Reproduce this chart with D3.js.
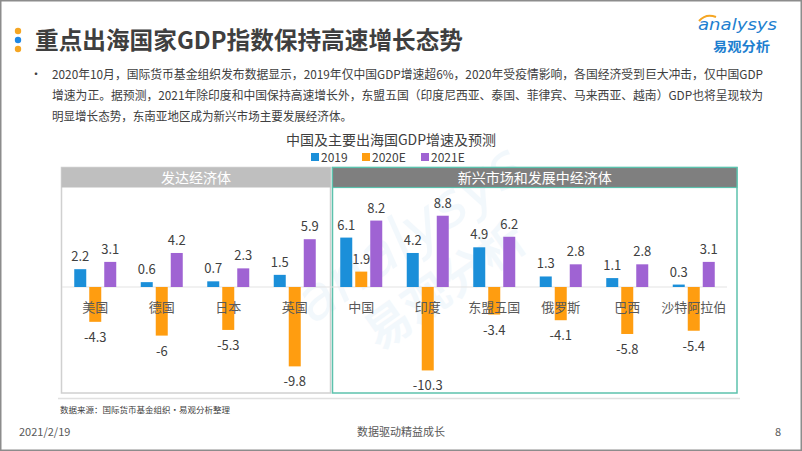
<!DOCTYPE html>
<html><head><meta charset="utf-8">
<script src="https://cdn.jsdelivr.net/npm/d3@7"></script>
<style>
html,body{margin:0;padding:0;background:#fff;}
svg{display:block;font-family:"Noto Sans CJK SC","Noto Sans",sans-serif;}
</style></head>
<body><svg id="c" width="802" height="451"></svg>
<script>
const categories = ["美国","德国","日本","英国","中国","印度","东盟五国","俄罗斯","巴西","沙特阿拉伯"];
const series = ["2019","2020E","2021E"];
const v2019  = [2.2, 0.6, 0.7, 1.5, 6.1, 4.2, 4.9, 1.3, 1.1, 0.3];
const v2020E = [-4.3, -6, -5.3, -9.8, 1.9, -10.3, -3.4, -4.1, -5.8, -5.4];
const v2021E = [3.1, 4.2, 2.3, 5.9, 8.2, 8.8, 6.2, 2.8, 2.8, 3.1];
const groups = [{name:"发达经济体", from:"美国", to:"英国"}, {name:"新兴市场和发展中经济体", from:"中国", to:"沙特阿拉伯"}];
const colors = ["#1b8fd9","#ff9d10","#9f63d3"];
const paragraph = [
 "2020年10月，国际货币基金组织发布数据显示，2019年仅中国GDP增速超6%，2020年受疫情影响，各国经济受到巨大冲击，仅中国GDP",
 "增速为正。据预测，2021年除印度和中国保持高速增长外，东盟五国（印度尼西亚、泰国、菲律宾、马来西亚、越南）GDP也将呈现较为",
 "明显增长态势，东南亚地区成为新兴市场主要发展经济体。"
];
const values = [v2019, v2020E, v2021E];

const svg = d3.select("#c");
// slide frame
svg.append("rect").attr("x",0.75).attr("y",0.75).attr("width",800.5).attr("height",449.5)
  .attr("fill","#fff").attr("stroke","#8c8c8c").attr("stroke-width",1.5);

// title dots
[["#f5a623",31],["#1e88e5",40],["#f5a623",49]].forEach(d=>{
  svg.append("circle").attr("cx",18).attr("cy",d[1]).attr("r",3.2).attr("fill",d[0]);
});
svg.append("text").attr("x",35).attr("y",49).attr("font-size",24).attr("font-weight",700)
  .attr("fill","#3f3f3f").attr("textLength",428).attr("lengthAdjust","spacingAndGlyphs")
  .text("重点出海国家GDP指数保持高速增长态势");

// logo
svg.append("text").attr("x",698).attr("y",30).attr("font-size",15).attr("font-style","italic")
  .attr("fill","#1e7fd0").attr("font-family","DejaVu Sans, sans-serif").attr("textLength",79)
  .attr("lengthAdjust","spacingAndGlyphs").text("analysys");
svg.append("path").attr("d","M699,21 Q706,13 716,17").attr("fill","none").attr("stroke","#f5a623").attr("stroke-width",2);
svg.append("text").attr("x",713).attr("y",51).attr("font-size",13).attr("font-weight",700)
  .attr("fill","#1e7fd0").attr("textLength",57).attr("lengthAdjust","spacingAndGlyphs").text("易观分析");

// paragraph
svg.append("text").attr("x",30).attr("y",79).attr("font-size",12).attr("fill","#404040").text("•");
const pw = [711, 711, 300];
paragraph.forEach((t,i)=>{
  svg.append("text").attr("x",52).attr("y",79+21*i).attr("font-size",12).attr("fill","#404040")
    .attr("textLength",pw[i]).attr("lengthAdjust","spacingAndGlyphs").text(t);
});

// chart title & legend
svg.append("text").attr("x",391).attr("y",145).attr("text-anchor","middle").attr("font-size",14)
  .attr("fill","#404040").text("中国及主要出海国GDP增速及预测");
const legX = [311, 362, 421];
series.forEach((s,i)=>{
  svg.append("rect").attr("x",legX[i]).attr("y",153).attr("width",8).attr("height",8).attr("fill",colors[i]);
  svg.append("text").attr("x",legX[i]+10).attr("y",161.5).attr("font-size",12).attr("fill","#404040").text(s);
});

// watermark
const wm = svg.append("g").attr("transform","translate(420,250) rotate(-35)").attr("opacity",0.05);
wm.append("text").attr("text-anchor","middle").attr("font-size",60).attr("font-style","italic")
  .attr("fill","#1e7fd0").attr("font-family","DejaVu Sans, sans-serif").text("analysys");
wm.append("text").attr("y",60).attr("text-anchor","middle").attr("font-size",46).attr("font-weight",700)
  .attr("fill","#1e7fd0").text("易观分析");

// scales
const x0 = d3.scaleBand().domain(categories).range([62,727]).padding(0);
const x1 = d3.scaleBand().domain(series).range([-21,21]).paddingInner(0.2);
const y = d3.scaleLinear().domain([-12,10]).range([287+12*8.1, 287-10*8.1]);

// panels
const panelBox = [
  {x:61.5, w:269, stroke:"#d0d0d0", head:"#bfbfbf"},
  {x:332.5, w:404.5, stroke:"#5cc2ad", head:"#7f7f7f"}
];
svg.append("line").attr("x1",58).attr("x2",740).attr("y1",398.5).attr("y2",398.5).attr("stroke","#e0e0e0").attr("stroke-width",1.5);
groups.forEach((g,i)=>{
  const p = panelBox[i];
  svg.append("rect").attr("x",p.x).attr("y",167.5).attr("width",p.w).attr("height",225.5)
    .attr("fill","none").attr("stroke",p.stroke).attr("stroke-width",1.5);
  svg.append("rect").attr("x",p.x).attr("y",167.5).attr("width",p.w).attr("height",20)
    .attr("fill",p.head).attr("stroke",i===1?p.stroke:"none").attr("stroke-width",1.2);
  svg.append("text").attr("x",p.x+p.w/2).attr("y",182.5).attr("text-anchor","middle")
    .attr("font-size",14).attr("fill","#fff").text(g.name);
});

// zero line
svg.append("line").attr("x1",x0.range()[0]).attr("x2",x0.range()[1]).attr("y1",y(0)).attr("y2",y(0))
  .attr("stroke","#e3e3e3").attr("stroke-width",1);

// bars
const data = [];
categories.forEach((c,ci)=>series.forEach((s,si)=>data.push({c, s, si, v:values[si][ci]})));
const bx = d=>x0(d.c)+x0.bandwidth()/2 + x1(d.s);
svg.append("g").selectAll("rect").data(data).join("rect")
  .attr("x",bx).attr("width",x1.bandwidth())
  .attr("y",d=>y(Math.max(0,d.v))).attr("height",d=>Math.abs(y(d.v)-y(0)))
  .attr("fill",d=>colors[d.si]);

// category labels (drawn above bars)
svg.append("g").selectAll("text").data(categories).join("text")
  .attr("x",c=>x0(c)+x0.bandwidth()/2).attr("y",312).attr("text-anchor","middle")
  .attr("font-size",13).attr("fill","#595959").text(c=>c);

// value labels
svg.append("g").selectAll("text").data(data).join("text")
  .attr("x",d=>bx(d)+x1.bandwidth()/2).attr("text-anchor","middle")
  .attr("y",d=>d.v>=0 ? y(d.v)-8 : y(d.v)+20)
  .attr("font-size",13).attr("fill","#404040").text(d=>String(d.v));

// footer
svg.append("text").attr("x",60).attr("y",413).attr("font-size",8.5).attr("fill","#404040").text("数据来源：国际货币基金组织·易观分析整理");
svg.append("text").attr("x",19).attr("y",436).attr("font-size",11).attr("fill","#595959").text("2021/2/19");
svg.append("text").attr("x",401).attr("y",436).attr("text-anchor","middle").attr("font-size",11).attr("fill","#595959").text("数据驱动精益成长");
svg.append("text").attr("x",778).attr("y",436).attr("text-anchor","middle").attr("font-size",11).attr("fill","#595959").text("8");
</script></body></html>
